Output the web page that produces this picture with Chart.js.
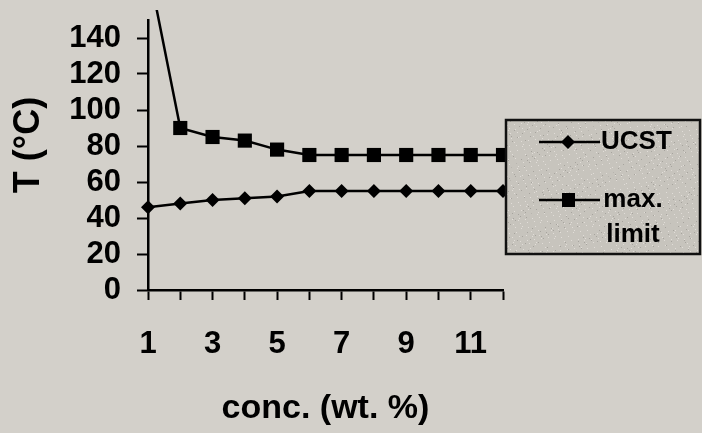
<!DOCTYPE html>
<html>
<head>
<meta charset="utf-8">
<script src="https://cdn.jsdelivr.net/npm/chart.js@4.4.0/dist/chart.umd.min.js"></script>
<style>
  html, body { margin: 0; padding: 0; background: #d3d0ca; }
  #wrap { width: 702px; height: 433px; position: relative; }
</style>
</head>
<body>
<div id="wrap"><canvas id="c" width="702" height="433"></canvas></div>
<script>
const categories = ['1','2','3','4','5','6','7','8','9','10','11','12'];
const ucst = [46, 48, 50, 51, 52, 55, 55, 55, 55, 55, 55, 55];
const maxLimit = [180, 90, 85, 83, 78, 75, 75, 75, 75, 75, 75, 75];
const yTicks = [0, 20, 40, 60, 80, 100, 120, 140];
const seriesNames = ['UCST', ['max.', 'limit']];

const FONT = "'Liberation Sans', Arial, sans-serif";

const legendPlugin = {
  id: 'boxLegend',
  afterDraw(chart) {
    const ctx = chart.ctx;
    ctx.save();
    const x0 = 506, y0 = 120, x1 = 700, y1 = 254;
    ctx.fillStyle = '#c7c4bd';
    ctx.fillRect(x0, y0, x1 - x0, y1 - y0);
    // light stipple texture (deterministic)
    ctx.fillStyle = 'rgba(245,243,238,0.55)';
    for (let i = 0; i < 900; i++) {
      const px = x0 + ((i * 73) % (x1 - x0));
      const py = y0 + ((i * 37 + Math.floor(i / 7) * 11) % (y1 - y0));
      ctx.fillRect(px, py, 1, 1);
    }
    ctx.fillStyle = 'rgba(110,105,100,0.35)';
    for (let i = 0; i < 500; i++) {
      const px = x0 + ((i * 53 + 17) % (x1 - x0));
      const py = y0 + ((i * 29 + Math.floor(i / 5) * 13) % (y1 - y0));
      ctx.fillRect(px, py, 1, 1);
    }
    ctx.strokeStyle = '#111';
    ctx.lineWidth = 2.5;
    ctx.strokeRect(x0, y0, x1 - x0, y1 - y0);

    const ds = chart.data.datasets;
    const rows = [142, 200];
    ds.forEach((d, i) => {
      const y = rows[i];
      ctx.strokeStyle = '#000';
      ctx.lineWidth = 2.5;
      ctx.beginPath();
      ctx.moveTo(539, y);
      ctx.lineTo(600, y);
      ctx.stroke();
      ctx.fillStyle = '#000';
      if (d.pointStyle === 'rectRot') {
        ctx.beginPath();
        ctx.moveTo(568, y - 7); ctx.lineTo(575, y); ctx.lineTo(568, y + 7); ctx.lineTo(561, y);
        ctx.closePath(); ctx.fill();
      } else {
        ctx.fillRect(562, y - 7, 13, 14);
      }
      ctx.font = "bold 26px " + FONT;
      ctx.textBaseline = 'middle';
      const lbl = d.label;
      if (Array.isArray(lbl)) {
        ctx.textAlign = 'center';
        lbl.forEach((t, k) => ctx.fillText(t, 633, y + k * 35));
      } else {
        ctx.textAlign = 'left';
        ctx.fillText(lbl, 601, y);
      }
    });
    ctx.restore();
  }
};

new Chart(document.getElementById('c'), {
  type: 'line',
  data: {
    labels: categories,
    datasets: [
      {
        label: seriesNames[0],
        data: ucst,
        borderColor: '#000',
        backgroundColor: '#000',
        borderWidth: 2.5,
        pointStyle: 'rectRot',
        pointRadius: 7,
        pointBorderWidth: 0,
        tension: 0,
        clip: { left: 10, top: 10, right: 10, bottom: 10 }
      },
      {
        label: seriesNames[1],
        data: maxLimit,
        borderColor: '#000',
        backgroundColor: '#000',
        borderWidth: 2.5,
        pointStyle: 'rect',
        pointRadius: 10,
        pointBorderWidth: 0,
        tension: 0,
        clip: { left: 10, top: 10, right: 10, bottom: 10 }
      }
    ]
  },
  options: {
    responsive: false,
    animation: false,
    devicePixelRatio: 1,
    layout: { padding: { left: 0, top: 20, right: 199, bottom: 0 } },
    plugins: { legend: { display: false }, tooltip: { enabled: false } },
    scales: {
      x: {
        type: 'category',
        offset: false,
        grid: { display: true, drawOnChartArea: false, drawTicks: true, tickLength: 10, tickColor: '#000', tickWidth: 2 },
        border: { display: true, color: '#000', width: 2.5 },
        ticks: {
          autoSkip: false,
          maxRotation: 0,
          color: '#000',
          padding: 26,
          font: { family: FONT, size: 31, weight: 'bold' },
          callback: function(v, i) { return i % 2 === 0 ? this.getLabelForValue(v) : ''; }
        },
        title: {
          display: true,
          text: 'conc. (wt. %)',
          color: '#000',
          font: { family: FONT, size: 34, weight: 'bold' },
          padding: { top: 0, bottom: 4 }
        },
        afterFit(s) { s.height = 143; s.paddingLeft = 0; s.paddingRight = 0; }
      },
      y: {
        min: 0,
        max: 150,
        grid: { display: true, drawOnChartArea: false, drawTicks: true, tickLength: 11, tickColor: '#000', tickWidth: 2 },
        border: { display: true, color: '#000', width: 2.5 },
        ticks: {
          autoSkip: false,
          stepSize: 20,
          color: '#000',
          padding: 16,
          font: { family: FONT, size: 31, weight: 'bold' }
        },
        afterBuildTicks(s) { s.ticks = yTicks.map(v => ({ value: v })); },
        title: {
          display: true,
          text: '  T (°C)',
          color: '#000',
          font: { family: FONT, size: 36, weight: 'bold' },
          padding: { top: 7, bottom: 0 }
        },
        afterFit(s) { s.width = 148; s.paddingTop = 0; s.paddingBottom = 0; }
      }
    }
  },
  plugins: [legendPlugin]
});
</script>
</body>
</html>
